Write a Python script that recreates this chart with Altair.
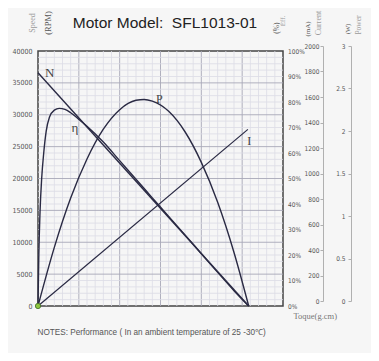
import altair as alt
import pandas as pd

# ---- data ----
# Speed N (RPM) vs torque (g.cm)
n_torque = [0, 25.8]
n_speed = [36600, 0]

# Efficiency (%)
eff_torque = [0, 0.1, 0.25, 0.45, 0.7, 1.0, 1.4, 2.0, 2.6, 3.3, 4.0, 5.0, 6.0,
              8.0, 10.0, 12.0, 14.0, 16.0, 18.0, 20.0, 22.0, 24.0, 25.8]
eff_pct = [0, 20, 37, 50, 60, 68.5, 74, 76.8, 77.5, 77.1, 75.8, 73.2, 70.5,
           64.3, 57.0, 49.7, 42.4, 35.1, 27.9, 20.5, 13.2, 6.0, 0]

# Output power (W)
pow_torque = [0, 2, 4, 6, 8, 10, 12, 13, 14, 16, 18, 20, 22, 24, 25.8]
pow_w = [0, 0.69, 1.27, 1.73, 2.08, 2.31, 2.42, 2.43, 2.41, 2.29, 2.05, 1.69, 1.22, 0.63, 0]

# Current (mA)
cur_torque = [0, 25.7]
cur_ma = [0, 1385]

# axis ticks
torque_ticks = [0, 5, 10, 15, 20, 25, 30]
speed_ticks = [0, 5000, 10000, 15000, 20000, 25000, 30000, 35000, 40000]
eff_ticks = [0, 10, 20, 30, 40, 50, 60, 70, 80, 90, 100]
cur_ticks = [0, 200, 400, 600, 800, 1000, 1200, 1400, 1600, 1800, 2000]
pow_ticks = [0, 0.5, 1, 1.5, 2, 2.5, 3]

grid_x_minor = [v for v in range(1, 30) if v % 5]
grid_x_major = [5, 10, 15, 20, 25]
grid_y_minor = [v for v in range(1000, 40000, 1000) if v % 5000]
grid_y_major = [5000, 10000, 15000, 20000, 25000, 30000, 35000]

# ---- styling ----
SANS = "Liberation Sans Narrow, Arial Narrow, DejaVu Sans Condensed, Liberation Sans, sans-serif"
TITLE_FONT = "Liberation Sans, Arial, sans-serif"
SERIF = "Liberation Serif, Times New Roman, DejaVu Serif, serif"
LINE = "#2a2a44"
LAB = "#555555"
FS = 7
FS_R = 6.5

x_scale = alt.Scale(domain=[0, 30], nice=False)


def speed_scale():
    return alt.Scale(domain=[0, 40000], nice=False)


vminor = alt.Chart(pd.DataFrame({"t": grid_x_minor})).mark_rule(
    color="#dcdce6", strokeWidth=0.8).encode(
    x=alt.X("t:Q", scale=x_scale, axis=None))
vmajor = alt.Chart(pd.DataFrame({"t": grid_x_major})).mark_rule(
    color="#a8a8b8", strokeWidth=0.9).encode(
    x=alt.X("t:Q", scale=x_scale, axis=None))
hminor = alt.Chart(pd.DataFrame({"s": grid_y_minor})).mark_rule(
    color="#dcdce6", strokeWidth=0.8).encode(
    y=alt.Y("s:Q", scale=speed_scale(), axis=None))
hmajor = alt.Chart(pd.DataFrame({"s": grid_y_major})).mark_rule(
    color="#a8a8b8", strokeWidth=0.9).encode(
    y=alt.Y("s:Q", scale=speed_scale(), axis=None))

n_line = alt.Chart(pd.DataFrame({"t": n_torque, "s": n_speed})).mark_line(
    color=LINE, strokeWidth=1.4).encode(
    x=alt.X("t:Q", scale=x_scale,
            axis=alt.Axis(values=torque_ticks, title=None, domain=False, ticks=False,
                          grid=False, labelFlush=False, labelPadding=4,
                          labelFontSize=FS, labelFont=SANS, labelColor=LAB)),
    y=alt.Y("s:Q", scale=speed_scale(),
            axis=alt.Axis(orient="left", values=speed_ticks, format="d", title=None,
                          domain=False, ticks=False, grid=False, labelPadding=6,
                          labelFontSize=FS, labelFont=SANS, labelColor=LAB)))

origin = alt.Chart(pd.DataFrame({"t": [0], "s": [0]})).mark_point(
    filled=True, color="#8dc63f", stroke="#3d6b2a", strokeWidth=0.8, size=28, opacity=1).encode(
    x=alt.X("t:Q", scale=x_scale, axis=None),
    y=alt.Y("s:Q", scale=speed_scale(), axis=None))

eff_line = alt.Chart(pd.DataFrame({"t": eff_torque, "e": eff_pct})).mark_line(
    color=LINE, strokeWidth=1.4, interpolate="monotone").encode(
    x=alt.X("t:Q", scale=x_scale, axis=None),
    y=alt.Y("e:Q", scale=alt.Scale(domain=[0, 100], nice=False),
            axis=alt.Axis(orient="right", values=eff_ticks, labelExpr="datum.value + '%'",
                          title=None, domain=False, ticks=False, grid=False, labelPadding=4.5,
                          labelFontSize=FS_R, labelFont=SANS, labelColor=LAB)))

cur_line = alt.Chart(pd.DataFrame({"t": cur_torque, "c": cur_ma})).mark_line(
    color=LINE, strokeWidth=1.2).encode(
    x=alt.X("t:Q", scale=x_scale, axis=None),
    y=alt.Y("c:Q", scale=alt.Scale(domain=[0, 2000], nice=False),
            axis=alt.Axis(orient="left", offset=-285, position=-5, values=cur_ticks,
                          format="d", title=None, grid=False, domainColor="#b0b0b0",
                          tickColor="#b0b0b0", tickSize=3, labelPadding=1,
                          labelFontSize=FS_R, labelFont=SANS, labelColor=LAB)))

pow_line = alt.Chart(pd.DataFrame({"t": pow_torque, "p": pow_w})).mark_line(
    color=LINE, strokeWidth=1.4, interpolate="monotone").encode(
    x=alt.X("t:Q", scale=x_scale, axis=None),
    y=alt.Y("p:Q", scale=alt.Scale(domain=[0, 3], nice=False),
            axis=alt.Axis(orient="left", offset=-313, position=-5, values=pow_ticks,
                          format="~g", title=None, grid=False, domainColor="#b0b0b0",
                          tickColor="#b0b0b0", tickSize=3, labelPadding=3,
                          labelFontSize=FS_R, labelFont=SANS, labelColor=LAB)))

dummy = alt.InlineData(values=[{"k": 1}])


def note(text, x, y, size, color, font=SERIF, angle=0, align="center", baseline="middle"):
    return alt.Chart(dummy).mark_text(
        text=text, fontSize=size, color=color, font=font, angle=angle,
        align=align, baseline=baseline).encode(x=alt.value(x), y=alt.value(y))


texts = [
    note("Motor Model:\u00a0 SFL1013-01", 127, -28, 15.5, "#222222", font=TITLE_FONT),
    note("Speed", -5, -28, 8, "#9a9a9a", angle=270),
    note("(RPM)", 9.5, -28, 8.5, "#555555", angle=270),
    note("(%)", 239, -23, 7.5, "#555555", angle=270),
    note("Eff.", 244.5, -30, 7, "#9a9a9a", angle=270),
    note("(mA)", 270, -22, 7, "#555555", angle=270),
    note("Current", 281, -28, 8, "#9a9a9a", angle=270),
    note("(W)", 310, -22, 6.5, "#555555", angle=270),
    note("Power", 321, -26, 7.5, "#9a9a9a", angle=270),
    note("N", 11.7, 22.3, 13, "#444444"),
    note("\u03b7", 37, 77.3, 13, "#444444"),
    note("P", 121.4, 48.3, 12, "#444444"),
    note("I", 211.2, 89.8, 12, "#444444"),
    note("Toque(g.cm)", 255.5, 265, 8.5, "#777777", align="left"),
    note("NOTES: Performance ( In an ambient temperature of 25 -30\u2103)", -0.5, 282, 8.2,
         "#555555", font=TITLE_FONT, align="left"),
]

chart = alt.layer(
    vminor, vmajor, hminor, hmajor, n_line, eff_line, cur_line, pow_line, origin, *texts
).resolve_scale(
    y="independent"
).properties(
    width=245, height=255,
    autosize="none",
    padding={"left": 30, "top": 43, "right": 88, "bottom": 47},
    background="#f6f6f6",
).configure_view(stroke="#444444", strokeWidth=1.5)

chart.save("out.html", embed_options={"renderer": "svg", "actions": False})
